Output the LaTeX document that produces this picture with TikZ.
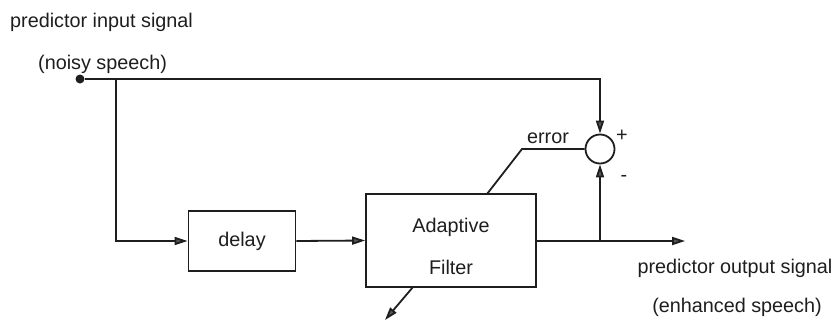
\documentclass[tikz,border=0pt]{standalone}
\usepackage{fontspec}
\setmainfont{Liberation Sans}
\usetikzlibrary{arrows.meta}
\definecolor{ink}{HTML}{1E1E1E}
\begin{document}
\begin{tikzpicture}[x=1pt,y=-1pt,
  lbl/.style={inner sep=0pt,text=ink,font=\fontsize{19.8}{23}\selectfont},
  blk/.style={draw=ink,line width=1.8pt,inner sep=0pt},
  ln/.style={draw=ink,line width=1.8pt},
  arr/.style={draw=ink,line width=1.8pt,-{Triangle[length=13pt,width=8pt,fill=ink!75]}}]
\useasboundingbox (0,0) rectangle (837,327);
% texts
\node[lbl,anchor=west] (tin1) at (10,22) {predictor input signal};
\node[lbl,anchor=west] (tin2) at (38,64) {(noisy speech)};
\node[lbl] (tout1) at (735,268) {predictor output signal};
\node[lbl] (tout2) at (737,307) {(enhanced speech)};
\node[lbl] (terr) at (548,138) {error};
\node[lbl] (tplus) at (622,136) {+};
\node[lbl] (tminus) at (624,178) {-};
% blocks
\node[circle,fill=ink,inner sep=0pt,minimum size=9pt] (dot) at (80,79) {};
\node[blk,minimum width=107pt,minimum height=60pt,lbl] (delay) at (242,241) {delay};
\node[blk,minimum width=170pt,minimum height=93pt] (af) at (451,240.5) {};
\node[lbl] (afa) at (451,227) {Adaptive};
\node[lbl] (aff) at (451,267) {Filter};
\node[draw=ink,circle,line width=1.8pt,minimum size=29pt,inner sep=0pt] (sum) at (600,149) {};
% helper coordinates
\coordinate (br) at (116,79);
\coordinate (e1) at (522,149);
\coordinate (e2) at (487,194);
\coordinate (ob) at (600,241);
\coordinate (out) at (685,241);
\coordinate (b1) at (413,287);
\coordinate (b2) at (385,320);
% connectors
\draw[arr] (dot) -| (sum.north);
\draw[arr] (br) |- (delay.west);
\draw[arr] (delay.east) -- (af.west);
\draw[arr] (af.east |- out) -- (out);
\draw[arr] (ob) -- (sum.south);
\draw[ln] (sum.west) -- (e1) -- (e2);
\draw[arr] (b1) -- (b2);
\end{tikzpicture}
\end{document}
